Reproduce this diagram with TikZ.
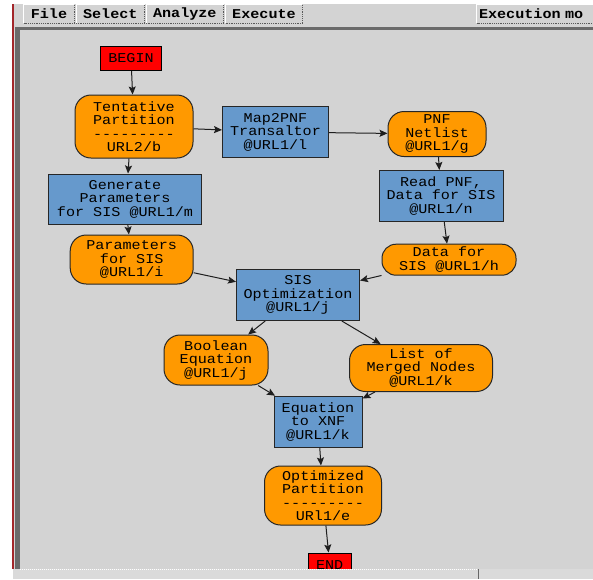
\documentclass[tikz,border=0pt]{standalone}
\usepackage{fontspec}
\newfontfamily\diagfont[FakeStretch=1.12]{Liberation Mono}
\usetikzlibrary{arrows.meta}

\definecolor{canvas}{HTML}{D3D3D3}
\definecolor{strip}{HTML}{DADADA}
\definecolor{procblue}{HTML}{6699CC}
\definecolor{dataorange}{HTML}{FF9900}
\definecolor{termred}{HTML}{FF0000}
\definecolor{edgeink}{HTML}{1E1E1E}
\definecolor{framered}{HTML}{A3262A}
\definecolor{stipple}{HTML}{6A6A6A}

% a row of separate hyphens (kerns keep them from joining into dashes)
\newcommand\dashrow[1]{\foreach \i in {1,...,#1}{-\kern0pt}}

\tikzset{
  nodetext/.style={font=\diagfont\fontsize{13.5}{13.5}\selectfont, align=center, inner sep=0pt, text=black},
  procbox/.style={nodetext, draw=black!85, line width=1pt, fill=procblue},
  datablob/.style={nodetext, draw=black!85, line width=1pt, fill=dataorange, rounded corners=16pt},
  termbox/.style={nodetext, draw=black, line width=1pt, fill=termred},
  flow/.style={draw=edgeink, line width=1pt, -{Stealth[length=8pt,width=7pt,inset=1.5pt]}},
  menubtn/.style={font=\diagfont\bfseries\fontsize{13.5}{13.5}\selectfont, inner sep=0pt,
                  fill=canvas, minimum height=18pt, text=black},
}

\begin{document}
\begin{tikzpicture}[x=1pt, y=-1pt]
\useasboundingbox (0,0) rectangle (593,579);

% window frame
\fill[white] (0,0) rectangle (593,579);
\fill[canvas] (12,4) rectangle (593,579);
\draw[framered, line width=1.5pt] (13,4) -- (13,569);
\fill[stipple] (15,27) rectangle (593,30);
\fill[stipple] (15,27) rectangle (20,569);

% menu bar
\node[menubtn, minimum width=50] (mfile) at (49,14) {File};
\node[menubtn, minimum width=68] (msel) at (110.3,14) {Select};
\node[menubtn, minimum width=77] (mana) at (184.8,14) {Analyze};
\node[menubtn, minimum width=76] (mexe) at (264,14) {Execute};
\begin{scope}
  \clip (470,0) rectangle (593,26);
  \node[menubtn, minimum width=116, text width=112, align=left] (mmode) at (535,14) {Execution mo};
\end{scope}
\foreach \b in {mfile,msel,mana,mexe,mmode}{
  \draw[white, line width=1pt] (\b.south west) -- (\b.north west) -- (\b.north east);
  \draw[black!65, line width=1.2pt, densely dotted] (\b.north east) -- (\b.south east) -- (\b.south west);
}

% flow nodes
\node[termbox, minimum width=61, minimum height=24] (begin) at (131,58.5) {BEGIN};
\node[datablob, minimum width=118, minimum height=63] (tp) at (134,126.5)
  {Tentative\\Partition\\\dashrow{9}\\URL2/b};
\node[procbox, minimum width=106, minimum height=51] (map) at (275.5,132)
  {Map2PNF\\Transaltor\\@URL1/l};
\node[datablob, minimum width=98, minimum height=45] (pnf) at (437,134)
  {PNF\\Netlist\\@URL1/g};
\node[procbox, minimum width=124, minimum height=51] (read) at (441,196)
  {Read PNF,\\Data for SIS\\@URL1/n};
\node[datablob, minimum width=134, minimum height=31, rounded corners=14pt] (data) at (449,259.7)
  {Data for\\SIS @URL1/h};
\node[procbox, minimum width=153, minimum height=50] (gen) at (125,199)
  {Generate\\Parameters\\for SIS @URL1/m};
\node[datablob, minimum width=123, minimum height=49] (par) at (131.7,259.5)
  {Parameters\\for SIS\\@URL1/i};
\node[procbox, minimum width=123, minimum height=51] (sis) at (298,295)
  {SIS\\Optimization\\@URL1/j};
\node[datablob, minimum width=104, minimum height=50] (bool) at (216,360)
  {Boolean\\Equation\\@URL1/j};
\node[datablob, minimum width=143, minimum height=47] (list) at (421,368)
  {List of\\Merged Nodes\\@URL1/k};
\node[procbox, minimum width=88, minimum height=51] (eqx) at (318,421.7)
  {Equation\\to XNF\\@URL1/k};
\node[datablob, minimum width=117, minimum height=59] (opt) at (323,495.5)
  {Optimized\\Partition\\\dashrow{9}\\URl1/e};
\node[termbox, minimum width=43, minimum height=24] (end) at (329.7,565) {END};

% connectors
\draw[flow] (begin) -- (tp);
\draw[flow] (tp) -- (map);
\draw[flow] ([xshift=-5pt]tp.south) -- ([xshift=3pt]gen.north);
\draw[flow] (map) -- (pnf);
\draw[flow] (pnf) -- (read);
\draw[flow] (read) -- (data);
\draw[flow] (gen) -- (par);
\draw[flow] (par) -- (sis);
\draw[flow] (data) -- (sis);
\draw[flow] (sis) -- (bool);
\draw[flow] (sis) -- (list);
\draw[flow] (bool) -- (eqx);
\draw[flow] (list) -- (eqx);
\draw[flow] (eqx) -- (opt);
\draw[flow] (opt) -- (end);

% bottom scroll strip
\fill[strip] (12,569) rectangle (593,579);
\draw[white, line width=1pt, densely dotted] (20,569.5) -- (478,569.5);
\draw[black!60, line width=1pt] (478,569) -- (478,579);
\draw[white, line width=1pt] (12.5,569) -- (12.5,579);
\end{tikzpicture}
\end{document}
